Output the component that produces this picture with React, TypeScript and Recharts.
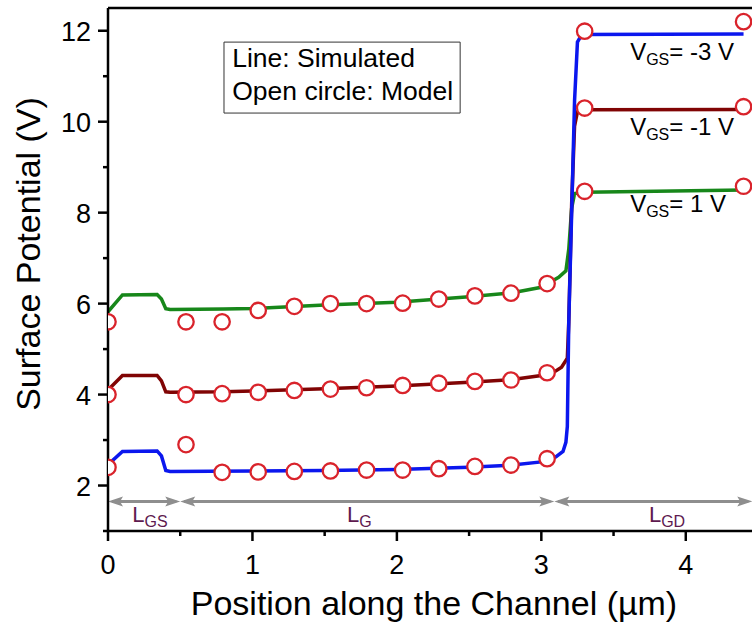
import {
  ComposedChart,
  Line,
  Scatter,
  XAxis,
  YAxis,
  ReferenceLine,
  ReferenceArea,
  ReferenceDot,
} from "recharts";

const FONT = "Arial, 'Liberation Sans', Helvetica, sans-serif";

const GREEN = "#17871a";
const DARK_RED = "#800404";
const BLUE = "#0b17ee";
const MODEL_RED = "#d9232b";
const ARROW_GRAY = "#8e8e8e";
const L_COLOR = "#5e1a4f";

// model points (open circles), same positions for every bias
const modelX = [0, 0.54, 0.79, 1.04, 1.29, 1.54, 1.79, 2.04, 2.29, 2.54, 2.79, 3.04, 3.3, 4.4];
const modelVgs1 = [5.6, 5.6, 5.6, 5.85, 5.94, 6.0, 6.0, 6.01, 6.1, 6.17, 6.23, 6.44, 8.47, 8.58];
const modelVgsM1 = [4.0, 4.0, 4.02, 4.05, 4.09, 4.12, 4.15, 4.2, 4.25, 4.29, 4.32, 4.48, 10.3, 10.33];
const modelVgsM3 = [2.4, 2.9, 2.29, 2.3, 2.31, 2.32, 2.34, 2.34, 2.37, 2.42, 2.45, 2.59, 11.99, 12.2];

// simulated curves
const simVgs1X = [0, 0.1, 0.34, 0.37, 0.4, 0.43, 0.8, 1.0, 1.5, 2.0, 2.5, 2.8, 3.0, 3.12, 3.17, 3.19, 3.21, 3.23, 3.3, 4.4];
const simVgs1Y = [5.82, 6.19, 6.2, 6.1, 5.89, 5.87, 5.88, 5.89, 5.97, 6.03, 6.15, 6.24, 6.36, 6.58, 6.72, 7.2, 8.1, 8.42, 8.45, 8.5];
const simVgsM1X = [0, 0.1, 0.34, 0.37, 0.4, 0.43, 0.8, 1.0, 1.5, 2.0, 2.5, 2.8, 3.0, 3.1, 3.14, 3.18, 3.19, 3.21, 3.23, 3.25, 3.3, 4.4];
const simVgsM1Y = [4.1, 4.42, 4.42, 4.3, 4.06, 4.05, 4.06, 4.08, 4.13, 4.19, 4.27, 4.33, 4.42, 4.52, 4.6, 4.8, 5.6, 8.2, 9.9, 10.22, 10.26, 10.27];
const simVgsM3X = [0, 0.1, 0.34, 0.37, 0.4, 0.43, 1.0, 1.5, 2.0, 2.5, 2.8, 3.0, 3.1, 3.15, 3.17, 3.18, 3.19, 3.21, 3.23, 3.25, 3.28, 4.4];
const simVgsM3Y = [2.46, 2.75, 2.76, 2.65, 2.33, 2.31, 2.32, 2.33, 2.35, 2.4, 2.45, 2.52, 2.63, 2.75, 2.95, 3.3, 5.6, 8.0, 10.46, 11.75, 11.92, 11.93];

// region arrows under the curves
const regionBounds = [0, 0.5, 3.09, 4.46];
const regionSubs = ["GS", "G", "GD"];
const regionLabelX = [0.29, 1.74, 3.87];

// curve labels
const vgsValues = ["-3", "-1", "1"];
const vgsLabelY = [11.36, 9.71, 8.01];

const xTicks = [0, 0.5, 1, 1.5, 2, 2.5, 3, 3.5, 4];
const yTicks = [1, 2, 3, 4, 5, 6, 7, 8, 9, 10, 11, 12];
const rightTicks = [2, 4, 6, 8, 10, 12];

const toPoints = (xs: number[], ys: number[]) => xs.map((x, i) => ({ x, y: ys[i] }));

const BottomTick = (props: any) => {
  const { x, y, payload } = props;
  const major = Number.isInteger(payload.value);
  return (
    <g>
      <line x1={x} y1={y} x2={x} y2={y + (major ? 10 : 5)} stroke="#000" strokeWidth={2.5} />
      {major && (
        <text x={x} y={y + 43} textAnchor="middle" fontSize={27} fontFamily={FONT} fill="#000">
          {payload.value}
        </text>
      )}
    </g>
  );
};

const LeftTick = (props: any) => {
  const { x, y, payload } = props;
  const major = payload.value % 2 === 0;
  return (
    <g>
      <line x1={x - (major ? 10 : 5)} y1={y} x2={x} y2={y} stroke="#000" strokeWidth={2.5} />
      {major && (
        <text x={x - 17} y={y + 10} textAnchor="end" fontSize={27} fontFamily={FONT} fill="#000">
          {payload.value}
        </text>
      )}
    </g>
  );
};

const TopTick = (props: any) => {
  const { x, y } = props;
  return <line x1={x} y1={y} x2={x} y2={y + 8} stroke="#000" strokeWidth={2.5} />;
};

const RightTick = (props: any) => {
  const { x, y } = props;
  return <line x1={x - 8} y1={y} x2={x} y2={y} stroke="#000" strokeWidth={2.5} />;
};

const OpenCircle = (props: any) => (
  <circle cx={props.cx} cy={props.cy} r={7.7} fill="#fff" stroke={MODEL_RED} strokeWidth={2.3} />
);

const Arrow = (props: any) => {
  const { x1, y1, x2 } = props;
  const h = 15;
  const w = 5;
  return (
    <g>
      <line x1={x1 + 4} y1={y1} x2={x2 - 4} y2={y1} stroke={ARROW_GRAY} strokeWidth={3} />
      <polygon points={`${x1},${y1} ${x1 + h},${y1 - w} ${x1 + h - 3},${y1} ${x1 + h},${y1 + w}`} fill={ARROW_GRAY} />
      <polygon points={`${x2},${y1} ${x2 - h},${y1 - w} ${x2 - h + 3},${y1} ${x2 - h},${y1 + w}`} fill={ARROW_GRAY} />
    </g>
  );
};

const renderXTitle = () => (
  <text x={434} y={615} textAnchor="middle" fontSize={34} fontFamily={FONT} fill="#000">
    Position along the Channel (µm)
  </text>
);

const renderYTitle = () => (
  <text
    x={40}
    y={254}
    transform="rotate(-90, 40, 254)"
    textAnchor="middle"
    fontSize={34}
    fontFamily={FONT}
    fill="#000"
  >
    Surface Potential (V)
  </text>
);

function App() {
  const axisLine = { stroke: "#000", strokeWidth: 2.5 };
  return (
    <div
      style={{
        position: "absolute",
        left: 0,
        top: 0,
        width: 752,
        height: 624,
        overflow: "hidden",
        background: "#fff",
      }}
    >
      <ComposedChart width={770} height={624} margin={{ top: 7, right: 11, bottom: 0, left: 0 }}>
        <XAxis
          dataKey="x"
          type="number"
          domain={[0, 4.5]}
          ticks={xTicks}
          allowDataOverflow
          height={93}
          axisLine={axisLine}
          tickLine={false}
          tickSize={0}
          tickMargin={0}
          tick={<BottomTick />}
          interval={0}
          label={renderXTitle}
        />
        <XAxis
          xAxisId="top"
          orientation="top"
          dataKey="x"
          type="number"
          domain={[0, 4.5]}
          ticks={xTicks}
          height={1}
          axisLine={axisLine}
          tickLine={false}
          tickSize={0}
          tickMargin={0}
          tick={<TopTick />}
          interval={0}
        />
        <YAxis
          type="number"
          domain={[1, 12.5]}
          ticks={yTicks}
          allowDataOverflow
          width={108}
          axisLine={axisLine}
          tickLine={false}
          tickSize={0}
          tickMargin={0}
          tick={<LeftTick />}
          interval={0}
          label={renderYTitle}
        />
        <YAxis
          yAxisId="right"
          orientation="right"
          type="number"
          domain={[1, 12.5]}
          ticks={rightTicks}
          width={1}
          axisLine={axisLine}
          tickLine={false}
          tickSize={0}
          tickMargin={0}
          tick={<RightTick />}
          interval={0}
        />

        <ReferenceArea
          x1={0.803}
          x2={2.438}
          y1={10.19}
          y2={11.75}
          stroke="#333"
          strokeWidth={1}
          fill="#fff"
          fillOpacity={1}
        />
        <ReferenceDot
          x={0.86}
          y={11.2}
          r={0}
          shape={(p: any) => (
            <text x={p.cx} y={p.cy} fontSize={26.5} fontFamily={FONT} fill="#000">
              Line: Simulated
            </text>
          )}
        />
        <ReferenceDot
          x={0.86}
          y={10.48}
          r={0}
          shape={(p: any) => (
            <text x={p.cx} y={p.cy} fontSize={26.5} fontFamily={FONT} fill="#000">
              Open circle: Model
            </text>
          )}
        />

        {regionSubs.map((sub, i) => (
          <ReferenceLine
            key={`arrow-${sub}`}
            segment={[
              { x: regionBounds[i], y: 1.65 },
              { x: regionBounds[i + 1], y: 1.65 },
            ]}
            ifOverflow="visible"
            shape={<Arrow />}
          />
        ))}
        {regionSubs.map((sub, i) => (
          <ReferenceDot
            key={`lab-${sub}`}
            x={regionLabelX[i]}
            y={1.2}
            r={0}
            shape={(p: any) => (
              <text x={p.cx} y={p.cy} textAnchor="middle" fontFamily={FONT} fill={L_COLOR}>
                <tspan fontSize={22}>L</tspan>
                <tspan fontSize={16} dy={5}>
                  {sub}
                </tspan>
              </text>
            )}
          />
        ))}

        {vgsValues.map((v, i) => (
          <ReferenceDot
            key={`vgs-${v}`}
            x={3.615}
            y={vgsLabelY[i]}
            r={0}
            shape={(p: any) => (
              <text x={p.cx} y={p.cy} fontFamily={FONT} fill="#000">
                <tspan fontSize={24}>V</tspan>
                <tspan fontSize={16} dy={5}>
                  GS
                </tspan>
                <tspan fontSize={24} dy={-5}>
                  {`= ${v} V`}
                </tspan>
              </text>
            )}
          />
        ))}

        <Line
          data={toPoints(simVgs1X, simVgs1Y)}
          dataKey="y"
          type="linear"
          stroke={GREEN}
          strokeWidth={3.5}
          dot={false}
          isAnimationActive={false}
        />
        <Line
          data={toPoints(simVgsM1X, simVgsM1Y)}
          dataKey="y"
          type="linear"
          stroke={DARK_RED}
          strokeWidth={3.5}
          dot={false}
          isAnimationActive={false}
        />
        <Line
          data={toPoints(simVgsM3X, simVgsM3Y)}
          dataKey="y"
          type="linear"
          stroke={BLUE}
          strokeWidth={3.5}
          dot={false}
          isAnimationActive={false}
        />
        <Scatter data={toPoints(modelX, modelVgs1)} dataKey="y" shape={OpenCircle} isAnimationActive={false} />
        <Scatter data={toPoints(modelX, modelVgsM1)} dataKey="y" shape={OpenCircle} isAnimationActive={false} />
        <Scatter data={toPoints(modelX, modelVgsM3)} dataKey="y" shape={OpenCircle} isAnimationActive={false} />
      </ComposedChart>
    </div>
  );
}

export default App;
